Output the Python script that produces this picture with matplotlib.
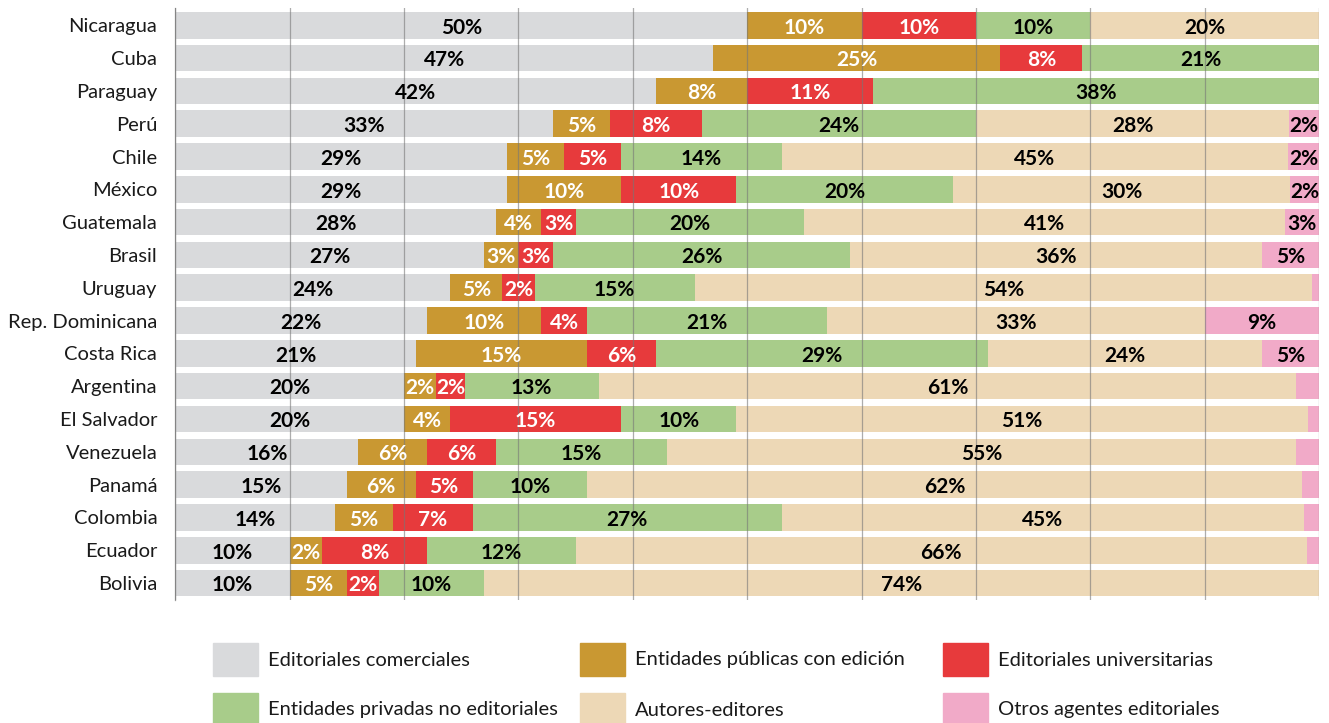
import matplotlib.pyplot as plt
from matplotlib.patches import Rectangle

plt.rcParams['font.family'] = ['Lato', 'DejaVu Sans']

countries = ['Nicaragua', 'Cuba', 'Paraguay', 'Perú', 'Chile', 'México', 'Guatemala',
             'Brasil', 'Uruguay', 'Rep. Dominicana', 'Costa Rica', 'Argentina',
             'El Salvador', 'Venezuela', 'Panamá', 'Colombia', 'Ecuador', 'Bolivia']

# bar widths (%) as drawn
comerciales   = [50, 47, 42, 33, 29, 29, 28, 27, 24, 22, 21, 20, 20, 16, 15, 14, 10, 10]
publicas      = [10, 25.1, 8, 5, 5, 10, 4, 3, 4.6, 10, 15, 2.8, 4, 6, 6, 5, 2.8, 5]
universitarias = [10, 7.2, 11, 8, 5, 10, 3, 3, 2.8, 4, 6, 2.5, 15, 6, 5, 7, 9.2, 2.8]
privadas      = [10, 20.7, 39, 24, 14, 19, 20, 26, 14, 21, 29, 11.7, 10, 15, 10, 27, 13, 9.2]
autores       = [20, 0, 0, 27.35, 44.3, 29.4, 42, 36, 54, 33, 24, 61, 50, 55, 62.5, 45.7, 63.9, 73]
otros         = [0, 0, 0, 2.65, 2.7, 2.6, 3, 5, 0.6, 10, 5, 2, 1, 2, 1.5, 1.3, 1.1, 0]

# printed labels (%), None = no label
lbl_comerciales   = [50, 47, 42, 33, 29, 29, 28, 27, 24, 22, 21, 20, 20, 16, 15, 14, 10, 10]
lbl_publicas      = [10, 25, 8, 5, 5, 10, 4, 3, 5, 10, 15, 2, 4, 6, 6, 5, 2, 5]
lbl_universitarias = [10, 8, 11, 8, 5, 10, 3, 3, 2, 4, 6, 2, 15, 6, 5, 7, 8, 2]
lbl_privadas      = [10, 21, 38, 24, 14, 20, 20, 26, 15, 21, 29, 13, 10, 15, 10, 27, 12, 10]
lbl_autores       = [20, None, None, 28, 45, 30, 41, 36, 54, 33, 24, 61, 51, 55, 62, 45, 66, 74]
lbl_otros         = [None, None, None, 2, 2, 2, 3, 5, None, 9, 5, None, None, None, None, None, None, None]

series = [
    ('Editoriales comerciales', comerciales, lbl_comerciales, '#d9dadc', 'black'),
    ('Entidades públicas con edición', publicas, lbl_publicas, '#c99832', 'white'),
    ('Editoriales universitarias', universitarias, lbl_universitarias, '#e73a3c', 'white'),
    ('Entidades privadas no editoriales', privadas, lbl_privadas, '#a8cc8a', 'black'),
    ('Autores-editores', autores, lbl_autores, '#edd8b6', 'black'),
    ('Otros agentes editoriales', otros, lbl_otros, '#f1aac8', 'black'),
]

fig = plt.figure(figsize=(13.29, 7.23), dpi=100)
ax = fig.add_axes([0.1319, 0.170, 0.8608, 0.819])

y = list(range(len(countries)))
left = [0.0] * len(countries)
for name, vals, lbls, color, tcolor in series:
    ax.barh(y, vals, left=left, height=0.81, color=color, zorder=1)
    for i, (v, lb) in enumerate(zip(vals, lbls)):
        if lb is not None:
            ax.text(left[i] + v / 2, i + 0.07, f'{lb}%', ha='center', va='center',
                    color=tcolor, fontsize=15, fontweight='bold', zorder=3)
    left = [l + v for l, v in zip(left, vals)]

ax.set_xlim(0, 100)
ax.set_ylim(17.52, -0.53)
ax.set_xticks(range(0, 101, 10))
ax.set_xticklabels([])
ax.grid(True, axis='x', color='#777777', linewidth=0.9, alpha=0.6, zorder=2)
ax.set_axisbelow(False)
ax.set_yticks(y)
ax.set_yticklabels(countries, fontsize=14.5, color='#1a1a1a')
for t in ax.get_yticklabels():
    t.set_y(t.get_position()[1])
ax.tick_params(axis='both', length=0, pad=13)
for s in ['top', 'right', 'bottom']:
    ax.spines[s].set_visible(False)
ax.spines['left'].set_color('#999999')
ax.spines['left'].set_linewidth(0.9)

# legend drawn in figure pixels
W, H = 1329, 723
cols = [213, 580, 943]
rows = [659, 709]
order = [[0, 1, 2], [3, 4, 5]]
for r, row in enumerate(order):
    for c, k in enumerate(row):
        name, _, _, color, _ = series[k]
        x0 = cols[c]
        yc = rows[r]
        fig.patches.append(Rectangle((x0 / W, 1 - (yc + 17) / H), 45 / W, 33 / H,
                                     transform=fig.transFigure, color=color))
        fig.text((x0 + 55) / W, 1 - (yc + 1) / H, name, ha='left', va='center',
                 fontsize=14.5, color='#1a1a1a')

fig.savefig('out.png', dpi=100)
